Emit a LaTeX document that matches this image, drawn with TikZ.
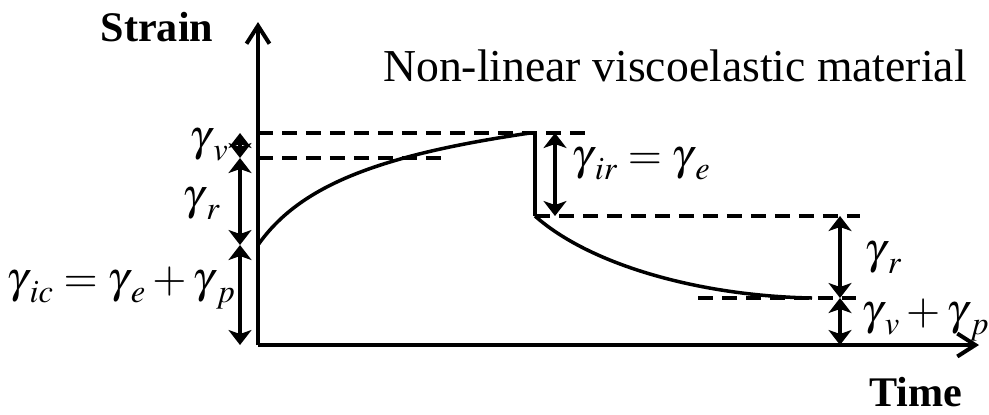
\documentclass[tikz,border=0pt]{standalone}
\usepackage{mathptmx}
\usepackage{fontspec}
\setmainfont{Liberation Serif}
\usetikzlibrary{arrows.meta,positioning,calc}

% gamma with a lowered, slightly detached subscript
\newcommand{\gsub}[1]{\gamma_{\mkern3mu\lower2pt\hbox{$\scriptstyle #1$}}}

\tikzset{
    axis/.style={line width=0.08cm, -{Straight Barb[length=0.36cm,width=0.46cm,line width=0.08cm]}},
    strainline/.style={line width=0.07cm},
    guide/.style={line width=0.065cm, dash pattern=on 0.3cm off 0.18cm},
    dimarrow/.style={line width=0.065cm, {Stealth[length=0.3cm,width=0.46cm,inset=0.08cm]}-{Stealth[length=0.3cm,width=0.46cm,inset=0.08cm]}},
    axislabel/.style={font=\bfseries\fontsize{24}{28}\selectfont, inner sep=0pt},
    gammalabel/.style={font=\fontsize{25}{29}\selectfont, inner sep=0pt},
}

\begin{document}
\begin{tikzpicture}[x=0.02cm, y=-0.02cm]
    \useasboundingbox (0,0) rectangle (989,414);

    % Axes
    \coordinate (O) at (258,345);
    \coordinate (ytop) at (258,22);
    \coordinate (xend) at (979,345);
    \draw[axis] (O) -- (ytop);
    \draw[axis] (O) -- (xend);
    \node[axislabel] (strain) at (157,27) {Strain};
    \node[axislabel] (time) at (916,392) {Time};
    \node[font=\fontsize{26}{30}\selectfont, inner sep=0pt] (title) at (675,66) {Non-linear viscoelastic material};

    % Creep and recovery curves
    \coordinate (creep0) at (258,245);
    \coordinate (creep1) at (530,133);
    \coordinate (rec0) at (535,216);
    \coordinate (rec1) at (812,298);
    \draw[strainline] (creep0) .. controls (300,185) and (380,155) .. (creep1);
    \draw[strainline] (creep1 -| rec0) -- (rec0);
    \draw[strainline] (rec0) .. controls (590,265) and (700,296) .. (rec1);

    % Guide lines
    \coordinate (top0) at (258,133);
    \coordinate (top1) at (585,133);
    \coordinate (mid0) at (258,158);
    \coordinate (mid1) at (442,158);
    \coordinate (low0) at (535,216);
    \coordinate (low1) at (860,216);
    \coordinate (end0) at (698,298);
    \coordinate (end1) at (856,298);
    \draw[guide] (top0) -- (top1);
    \draw[guide] (mid0) -- (mid1);
    \draw[guide] (low0) -- (low1);
    \draw[guide] (end0) -- (end1);

    % Strain components during loading
    \coordinate (la) at (240,133);
    \coordinate (lb) at (240,158);
    \coordinate (lc) at (240,245);
    \coordinate (ld) at (240,345);
    \draw[dimarrow] (la) -- (lb);
    \draw[dimarrow] (lb) -- (lc);
    \draw[dimarrow] (lc) -- (ld);
    \node[gammalabel, anchor=east] (gv) at (229,145) {$\gsub{v}$};
    \node[gammalabel, anchor=east] (gr) at (221,204) {$\gsub{r}$};
    \node[gammalabel, anchor=east] (gic) at (236,288) {$\gsub{ic}=\gsub{e}+\gsub{p}$};

    % Strain components after unloading
    \coordinate (ma) at (555,133);
    \coordinate (mb) at (555,216);
    \draw[dimarrow] (ma) -- (mb);
    \node[gammalabel, anchor=west] (gir) at (571,164) {$\gsub{ir}=\gsub{e}$};
    \coordinate (ra) at (840,216);
    \coordinate (rb) at (840,298);
    \coordinate (rc) at (840,345);
    \draw[dimarrow] (ra) -- (rb);
    \draw[dimarrow] (rb) -- (rc);
    \node[gammalabel, anchor=west] (grr) at (864,258) {$\gsub{r}$};
    \node[gammalabel, anchor=west] (gvp) at (861,320) {$\gsub{v}+\gsub{p}$};
\end{tikzpicture}
\end{document}
